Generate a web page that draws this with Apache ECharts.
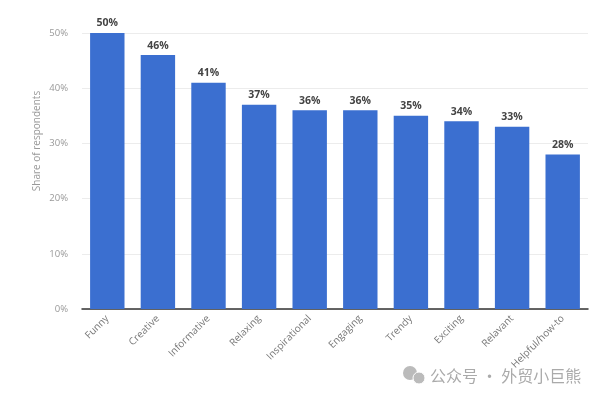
<!DOCTYPE html>
<html>
<head>
<meta charset="utf-8">
<script src="https://cdn.jsdelivr.net/npm/echarts@6/dist/echarts.min.js"></script>
<style>
html,body{margin:0;padding:0;background:#fff;}
#chart{width:600px;height:399px;}
</style>
</head>
<body>
<div id="chart"></div>
<script>
var categories = ['Funny','Creative','Informative','Relaxing','Inspirational','Engaging','Trendy','Exciting','Relavant','Helpful/how-to'];
var values = [50,46,41,37,36,36,35,34,33,28];
var yTicks = [0,10,20,30,40,50];
var axisTitle = 'Share of respondents';
var watermark = '公众号 · 外贸小巨熊';

var chart = echarts.init(document.getElementById('chart'), null, {renderer:'canvas'});
chart.setOption({
  animation:false,
  backgroundColor:'#ffffff',
  grid:{left:82,right:12,top:33,bottom:90,containLabel:false},
  xAxis:{
    type:'category',
    data:categories,
    axisLine:{show:true,lineStyle:{color:'#333',width:1.5}},
    axisTick:{show:false},
    axisLabel:{rotate:45,color:'#777',fontSize:10,fontFamily:'Open Sans',margin:8,interval:0}
  },
  yAxis:{
    type:'value',
    min:yTicks[0],
    max:yTicks[yTicks.length-1],
    interval:10,
    axisLine:{show:false},
    axisTick:{show:false},
    axisLabel:{formatter:'{value}%',color:'#999',fontSize:9.5,fontFamily:'Open Sans',margin:14},
    splitLine:{lineStyle:{color:'#ececec',width:1}}
  },
  series:[{
    type:'bar',
    data:values,
    barWidth:'68%',
    itemStyle:{color:'#3b6fd0'},
    label:{show:true,position:'top',formatter:'{c}%',color:'#444',fontSize:10.5,fontWeight:'bold',fontFamily:'Open Sans',distance:4}
  }],
  graphic:[
    {type:'text',x:37,y:141,rotation:Math.PI/2,style:{text:axisTitle,fill:'#999',font:'10px "Open Sans"',align:'center',verticalAlign:'middle'}},
    {type:'circle',shape:{cx:410,cy:373,r:7},style:{fill:'#bbb'}},
    {type:'circle',shape:{cx:419,cy:378,r:6},style:{fill:'#bbb',stroke:'#fff',lineWidth:1}},
    {type:'text',x:430,y:376,style:{text:watermark,fill:'#aaa',font:'16px "Noto Sans CJK SC"',align:'left',verticalAlign:'middle'}}
  ]
});
</script>
</body>
</html>
